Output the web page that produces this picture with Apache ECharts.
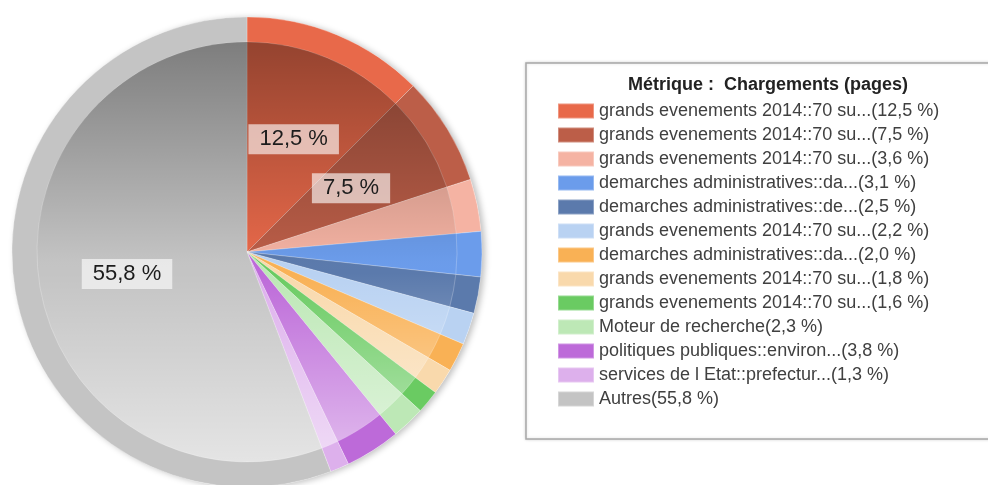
<!DOCTYPE html>
<html>
<head>
<meta charset="utf-8">
<script src="https://cdn.jsdelivr.net/npm/echarts@6/dist/echarts.min.js"></script>
<style>
  html, body { margin: 0; padding: 0; background: #fff; }
  #chart { width: 988px; height: 485px; }
</style>
</head>
<body>
<div id="chart"></div>
<script>
// libellés (déjà tronqués comme dans la source)
var labels = [
    'grands evenements 2014::70 su...',
    'grands evenements 2014::70 su...',
    'grands evenements 2014::70 su...',
    'demarches administratives::da...',
    'demarches administratives::de...',
    'grands evenements 2014::70 su...',
    'demarches administratives::da...',
    'grands evenements 2014::70 su...',
    'grands evenements 2014::70 su...',
    'Moteur de recherche',
    'politiques publiques::environ...',
    'services de l Etat::prefectur...',
    'Autres'
];
// parts en %
var values = [12.5, 7.5, 3.6, 3.1, 2.5, 2.2, 2.0, 1.8, 1.6, 2.3, 3.8, 1.3, 55.8];
var colors = ['#e8694a', '#bc5e48', '#f5b3a3', '#6b9ceb', '#5b7aac', '#b9d2f2',
              '#f9b155', '#f9d9ac', '#6acb62', '#bde8b6', '#bd6ad9', '#ddb0ec', '#c4c4c4'];
var metricTitle = 'Métrique :  Chargements (pages)';

var font = 'Liberation Sans, Arial, sans-serif';

function pct(v){
    return v.toFixed(1).replace('.', ',') + ' %';
}

var names = [];
var ringData = [];
var innerData = [];
var labelData = [];
labels.map(function(lab, i){
    var nm = lab + '(' + pct(values[i]) + ')';
    names.push(nm);
    ringData.push({name: nm, value: values[i], itemStyle: {color: colors[i]}});
    innerData.push({value: values[i], itemStyle: {color: colors[i]}});
    labelData.push({value: values[i], label: {show: values[i] > 5}});
});

var center = [247, 252];
var chart = echarts.init(document.getElementById('chart'));
chart.setOption({
    animation: false,
    backgroundColor: '#fff',
    title: {
        text: metricTitle,
        left: 768,
        top: 76,
        padding: 0,
        textAlign: 'center',
        textStyle: {fontFamily: font, fontSize: 18, fontWeight: 'bold', color: '#222'}
    },
    graphic: [{
        type: 'rect',
        z: 0,
        shape: {x: 526, y: 63, width: 480, height: 376},
        style: {fill: '#fff', stroke: '#a8a8a8', lineWidth: 1.5,
                shadowBlur: 3, shadowColor: 'rgba(0,0,0,0.15)'}
    }],
    legend: {
        orient: 'vertical',
        left: 557,
        top: 102,
        padding: 0,
        itemWidth: 36,
        itemHeight: 15,
        itemGap: 6,
        icon: 'rect',
        selectedMode: false,
        data: names,
        textStyle: {fontFamily: font, fontSize: 18, lineHeight: 18, color: '#404040'}
    },
    series: [
        // ombre portée
        {
            type: 'pie', silent: true, center: center, radius: [0, 235],
            label: {show: false}, labelLine: {show: false},
            itemStyle: {color: '#fff', shadowBlur: 6, shadowOffsetX: 3, shadowOffsetY: 1,
                        shadowColor: 'rgba(0,0,0,0.25)'},
            data: [{value: 1}]
        },
        // anneau extérieur
        {
            type: 'pie', center: center, radius: [0, 235],
            label: {show: false}, labelLine: {show: false},
            emphasis: {disabled: true},
            itemStyle: {borderColor: 'rgba(255,255,255,0.3)', borderWidth: 0.8},
            data: ringData
        },
        // disque intérieur
        {
            type: 'pie', silent: true, center: center, radius: [0, 210],
            label: {show: false}, labelLine: {show: false},
            itemStyle: {borderColor: 'rgba(255,255,255,0.3)', borderWidth: 0.8},
            data: innerData
        },
        // dégradé (relief)
        {
            type: 'pie', silent: true, center: center, radius: [0, 210],
            label: {show: false}, labelLine: {show: false},
            itemStyle: {
                color: new echarts.graphic.LinearGradient(0, 0, 0, 1, [
                    {offset: 0, color: 'rgba(0,0,0,0.36)'},
                    {offset: 0.5, color: 'rgba(0,0,0,0.02)'},
                    {offset: 0.55, color: 'rgba(255,255,255,0)'},
                    {offset: 1, color: 'rgba(255,255,255,0.55)'}
                ])
            },
            data: [{value: 1}]
        },
        // étiquettes
        {
            type: 'pie', silent: true, center: center, radius: [0, 238],
            itemStyle: {color: 'rgba(0,0,0,0)'},
            labelLine: {show: false},
            label: {
                position: 'inside',
                formatter: function(p){ return pct(p.value); },
                fontFamily: font,
                fontSize: 22,
                color: '#1c1c1c',
                backgroundColor: 'rgba(255,255,255,0.62)',
                padding: [4, 11]
            },
            data: labelData
        }
    ]
});
</script>
</body>
</html>
